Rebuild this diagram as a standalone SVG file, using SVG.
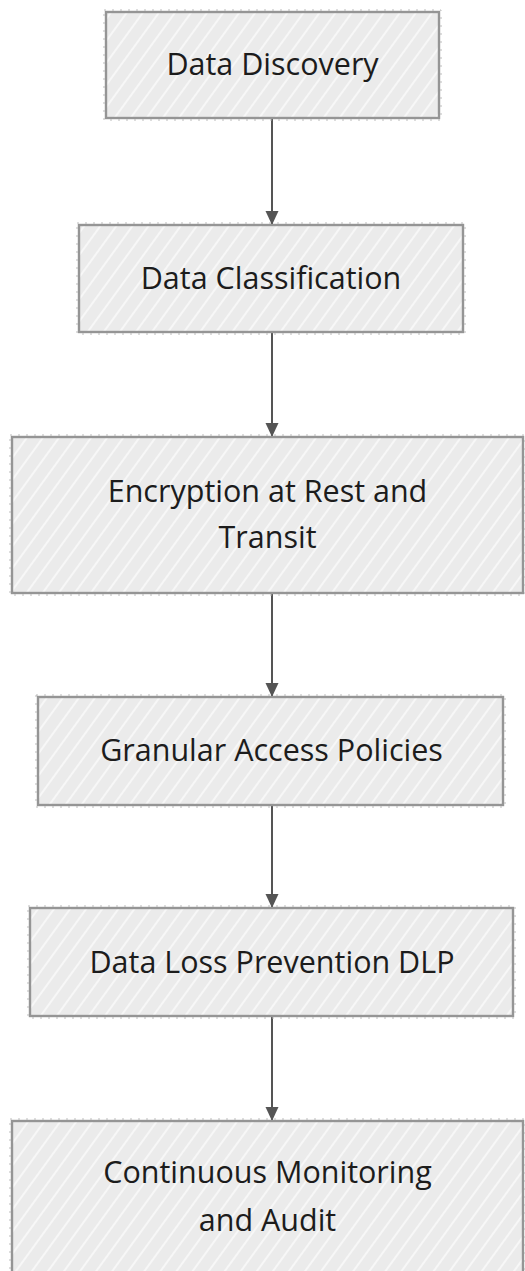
<svg xmlns="http://www.w3.org/2000/svg" width="525" height="1271" viewBox="0 0 525 1271">
<style>
.box{fill:url(#hatch);stroke:#959595;stroke-width:2.4}
.edge{fill:none;stroke:#b4b4b4;stroke-width:0.9;stroke-dasharray:2 6}
.lbl{font-family:"Open Sans","Noto Sans",sans-serif;font-size:30.5px;fill:#1c1c1c;text-anchor:middle}
.conn{stroke:#555;stroke-width:2;fill:none;marker-end:url(#arrow)}
</style>
<defs>
<pattern id="hatch" patternUnits="userSpaceOnUse" width="13" height="13" patternTransform="rotate(36)">
<rect width="13" height="13" fill="#ebebeb"/>
<line x1="6" y1="0" x2="6" y2="13" stroke="#fdfdfd" stroke-width="1.4"/>
</pattern>
<marker id="arrow" markerUnits="userSpaceOnUse" markerWidth="16" markerHeight="16" refX="14" refY="6.5" orient="auto">
<path d="M0,0 L14,6.5 L0,13 Z" fill="#555"/>
</marker>
</defs>
<rect width="525" height="1271" fill="#ffffff"/>
<g id="connectors">
<line class="conn" x1="272" y1="119" x2="272" y2="225"/>
<line class="conn" x1="272" y1="333" x2="272" y2="437"/>
<line class="conn" x1="272" y1="594" x2="272" y2="697"/>
<line class="conn" x1="272" y1="806" x2="272" y2="908"/>
<line class="conn" x1="272" y1="1017" x2="272" y2="1121"/>
</g>
<g id="n1">
<rect class="box" x="106" y="12" width="333" height="106"/>
<rect class="edge" x="104" y="10" width="337" height="110"/>
<text class="lbl" x="272.5" y="75">Data Discovery</text>
</g>
<g id="n2">
<rect class="box" x="79" y="225" width="384" height="107"/>
<rect class="edge" x="77" y="223" width="388" height="111"/>
<text class="lbl" x="271" y="289">Data Classification</text>
</g>
<g id="n3">
<rect class="box" x="12" y="437" width="511" height="156"/>
<rect class="edge" x="10" y="435" width="515" height="160"/>
<text class="lbl" x="267.5" y="502">Encryption at Rest and</text>
<text class="lbl" x="267.5" y="548">Transit</text>
</g>
<g id="n4">
<rect class="box" x="38" y="697" width="465" height="108"/>
<rect class="edge" x="36" y="695" width="469" height="112"/>
<text class="lbl" x="271.5" y="761">Granular Access Policies</text>
</g>
<g id="n5">
<rect class="box" x="30" y="908" width="483" height="108"/>
<rect class="edge" x="28" y="906" width="487" height="112"/>
<text class="lbl" x="272" y="973">Data Loss Prevention DLP</text>
</g>
<g id="n6">
<rect class="box" x="12" y="1121" width="511" height="156"/>
<rect class="edge" x="10" y="1119" width="515" height="160"/>
<text class="lbl" x="267.5" y="1183">Continuous Monitoring</text>
<text class="lbl" x="267.5" y="1231">and Audit</text>
</g>
</svg>
